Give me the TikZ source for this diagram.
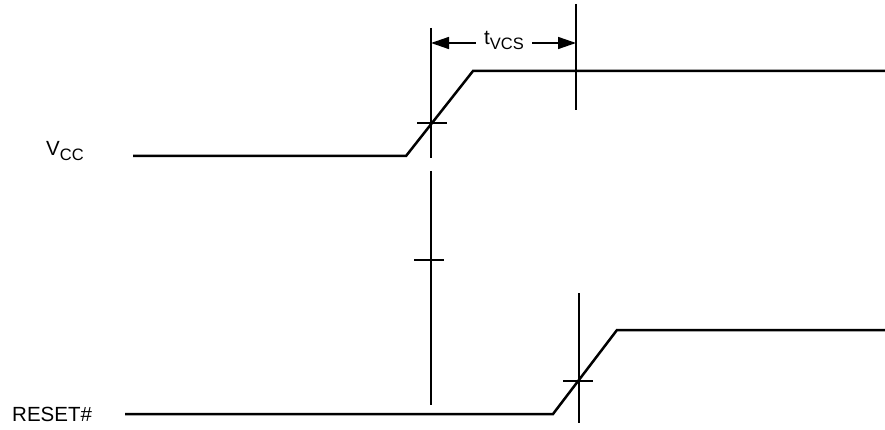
\documentclass[tikz,border=0pt]{standalone}
\usepackage{fontspec}
\setmainfont{Liberation Sans}
\usetikzlibrary{arrows.meta}
\newcommand{\lowsub}[1]{\raisebox{-5pt}{\fontsize{16.5}{16.5}\selectfont #1}}
\tikzset{
  signal/.style={line width=2.5pt},
  marker/.style={line width=1.3pt},
  dimarrow/.style={line width=1.5pt, -{Triangle[length=18pt,width=12pt]}},
  label/.style={font=\fontsize{20.5}{24}\selectfont, inner sep=0pt}
}
\begin{document}
\begin{tikzpicture} [x=1pt, y=-1pt]
\useasboundingbox (0,0) rectangle (885,430);

% waveforms
\draw[signal] (133,156) -- (406,156) -- (473,71) -- (885,71);
\draw[signal] (125,414) -- (553,414) -- (617,330) -- (885,330);

\node[label, anchor=base west] (vcc) at (46,156) {V\lowsub{CC}};
\node[label, anchor=base west] (reset) at (12,421) {RESET\#};

% timing marks
\draw[marker] (431,28) -- (431,158);
\draw[marker] (431,171) -- (431,405);
\draw[marker] (576,4) -- (576,110);
\draw[marker] (579,293) -- (579,423);
\foreach \x/\y in {432/123, 429/260, 578/381} \draw[marker] (\x-15,\y) -- (\x+15,\y);

\coordinate (vl) at (431,43);
\coordinate (vr) at (576,43);
\node[label, inner xsep=8pt] (tvcs) at (504,40) {t\lowsub{VCS}};
\draw[dimarrow] (tvcs.west |- vl) -- (vl);
\draw[dimarrow] (tvcs.east |- vr) -- (vr);
\end{tikzpicture}
\end{document}
